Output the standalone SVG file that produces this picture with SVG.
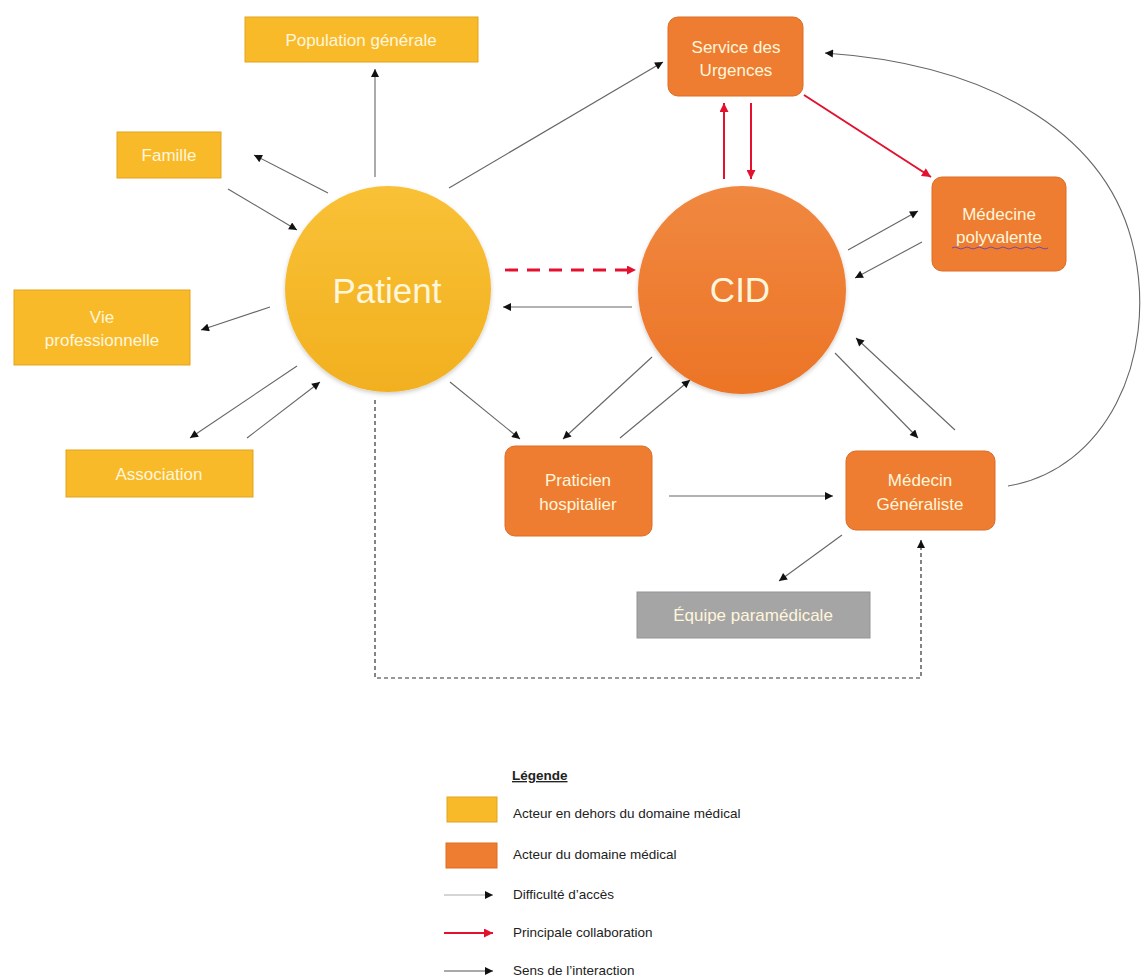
<svg xmlns="http://www.w3.org/2000/svg" width="1144" height="977" viewBox="0 0 1144 977">
<style>
.lbl{font-family:"Liberation Sans",Arial,sans-serif;fill:#FFF6DC;text-anchor:middle}
.n{font-size:17px}
.big{font-size:35px}
.ybox{fill:#F9BA2A;stroke:#E2A31C;stroke-width:1}
.obox{fill:#EE7D31;stroke:#DD6C22;stroke-width:1}
.gbox{fill:#A5A5A5;stroke:#949494;stroke-width:1}
.c{stroke:#666;stroke-width:1.1;fill:none;marker-end:url(#ah)}
.r{stroke:#E3102E;stroke-width:2;fill:none;marker-end:url(#ahr)}
.leg{font-family:"Liberation Sans",Arial,sans-serif;font-size:13.5px;fill:#222}
</style>
<defs>
<marker id="ah" viewBox="0 0 10 10" refX="10" refY="5" markerWidth="9" markerHeight="8" markerUnits="userSpaceOnUse" orient="auto"><path d="M0,0 L10,5 L0,10 z" fill="#111"/></marker>
<marker id="ahr" viewBox="0 0 10 10" refX="10" refY="5" markerWidth="10" markerHeight="9" markerUnits="userSpaceOnUse" orient="auto"><path d="M0,0 L10,5 L0,10 z" fill="#E3102E"/></marker>
<linearGradient id="gy" x1="0" y1="0" x2="0" y2="1"><stop offset="0" stop-color="#F9C137"/><stop offset="1" stop-color="#F2B01F"/></linearGradient>
<linearGradient id="go" x1="0" y1="0" x2="0" y2="1"><stop offset="0" stop-color="#F08840"/><stop offset="1" stop-color="#EC7426"/></linearGradient>
<filter id="sh" x="-20%" y="-20%" width="140%" height="140%"><feDropShadow dx="0" dy="2" stdDeviation="2" flood-color="#000" flood-opacity="0.2"/></filter>
</defs>
<rect width="1144" height="977" fill="#fff"/>

<g id="connectors">
<line class="c" x1="375" y1="177" x2="375" y2="69"/>
<line class="c" x1="328" y1="193" x2="254" y2="155"/>
<line class="c" x1="228" y1="189" x2="297" y2="230"/>
<line class="c" x1="270" y1="307" x2="201" y2="330"/>
<line class="c" x1="297" y1="366" x2="190" y2="438"/>
<line class="c" x1="247" y1="438" x2="320" y2="382"/>
<line class="c" x1="449" y1="188" x2="663" y2="62"/>
<line class="c" x1="632" y1="307" x2="503" y2="307"/>
<line class="c" x1="450" y1="382" x2="520" y2="439"/>
<line class="c" x1="652" y1="357" x2="563" y2="439"/>
<line class="c" x1="620" y1="438" x2="690" y2="380"/>
<line class="c" x1="669" y1="496" x2="833" y2="496"/>
<line class="c" x1="835" y1="353" x2="918" y2="438"/>
<line class="c" x1="955" y1="430" x2="856" y2="338"/>
<line class="c" x1="848" y1="250" x2="918" y2="211"/>
<line class="c" x1="922" y1="242" x2="855" y2="278"/>
<line class="c" x1="842" y1="535" x2="779" y2="581"/>
<path class="c" d="M1008,486 C1105,470 1158,360 1134,250 C1110,140 1000,65 825,53"/>
<path d="M375,400 L375,678 L921,678 L921,540" fill="none" stroke="#333" stroke-width="1.2" stroke-dasharray="4 3" marker-end="url(#ah)"/>
<line x1="505" y1="270" x2="636" y2="270" stroke="#E3102E" stroke-width="2.8" stroke-dasharray="13 9" marker-end="url(#ahr)"/>
<line class="r" x1="724" y1="179" x2="724" y2="103"/>
<line class="r" x1="751" y1="103" x2="751" y2="179"/>
<line class="r" x1="804" y1="95" x2="931" y2="177"/>
</g>

<g id="population"><rect class="ybox" x="245" y="17" width="233" height="45"/><text class="lbl n" x="361" y="46">Population générale</text></g>
<g id="famille"><rect class="ybox" x="117" y="132" width="104" height="46"/><text class="lbl n" x="169" y="161">Famille</text></g>
<g id="vie-pro"><rect class="ybox" x="14" y="290" width="176" height="75"/><text class="lbl n" x="102" y="323">Vie</text><text class="lbl n" x="102" y="346">professionnelle</text></g>
<g id="association"><rect class="ybox" x="66" y="450" width="187" height="47"/><text class="lbl n" x="159" y="480">Association</text></g>
<g id="patient"><circle cx="388" cy="289" r="103" fill="url(#gy)" filter="url(#sh)"/><text class="lbl big" x="387" y="303">Patient</text></g>
<g id="cid"><circle cx="742" cy="290" r="104" fill="url(#go)" filter="url(#sh)"/><text class="lbl big" x="740" y="302">CID</text></g>
<g id="urgences"><rect class="obox" x="668" y="17" width="135" height="79" rx="10"/><text class="lbl n" x="736" y="53">Service des</text><text class="lbl n" x="736" y="76">Urgences</text></g>
<g id="medecine-polyvalente"><rect class="obox" x="932" y="177" width="134" height="94" rx="10"/><text class="lbl n" x="999" y="220">Médecine</text><text class="lbl n" x="999" y="243">polyvalente</text><path d="M952,248 q3,-2 6,0 t6,0 t6,0 t6,0 t6,0 t6,0 t6,0 t6,0 t6,0 t6,0 t6,0 t6,0 t6,0 t6,0 t6,0 t6,0" fill="none" stroke="#7B4AA0" stroke-width="1"/></g>
<g id="praticien"><rect class="obox" x="505" y="446" width="147" height="90" rx="10"/><text class="lbl n" x="578" y="486">Praticien</text><text class="lbl n" x="578" y="510">hospitalier</text></g>
<g id="medecin-generaliste"><rect class="obox" x="846" y="451" width="149" height="79" rx="10"/><text class="lbl n" x="920" y="486">Médecin</text><text class="lbl n" x="920" y="510">Généraliste</text></g>
<g id="equipe"><rect class="gbox" x="637" y="592" width="233" height="46"/><text class="lbl n" x="753" y="621">Équipe paramédicale</text></g>

<g id="legende">
<text class="leg" x="512" y="780" font-weight="bold" text-decoration="underline">Légende</text>
<rect x="447" y="797" width="50" height="25" fill="#F9BA2A" stroke="#E2A31C"/>
<text class="leg" x="513" y="818">Acteur en dehors du domaine médical</text>
<rect x="446" y="843" width="51" height="25" fill="#EE7D31" stroke="#DD6C22"/>
<text class="leg" x="513" y="859">Acteur du domaine médical</text>
<line x1="444" y1="895" x2="493" y2="895" stroke="#aaa" stroke-width="1" marker-end="url(#ah)"/>
<text class="leg" x="513" y="899">Difficulté d’accès</text>
<line x1="444" y1="933" x2="493" y2="933" stroke="#E3102E" stroke-width="2" marker-end="url(#ahr)"/>
<text class="leg" x="513" y="937">Principale collaboration</text>
<line x1="444" y1="971" x2="493" y2="971" stroke="#555" stroke-width="1.1" marker-end="url(#ah)"/>
<text class="leg" x="513" y="975">Sens de l’interaction</text>
</g>
</svg>
